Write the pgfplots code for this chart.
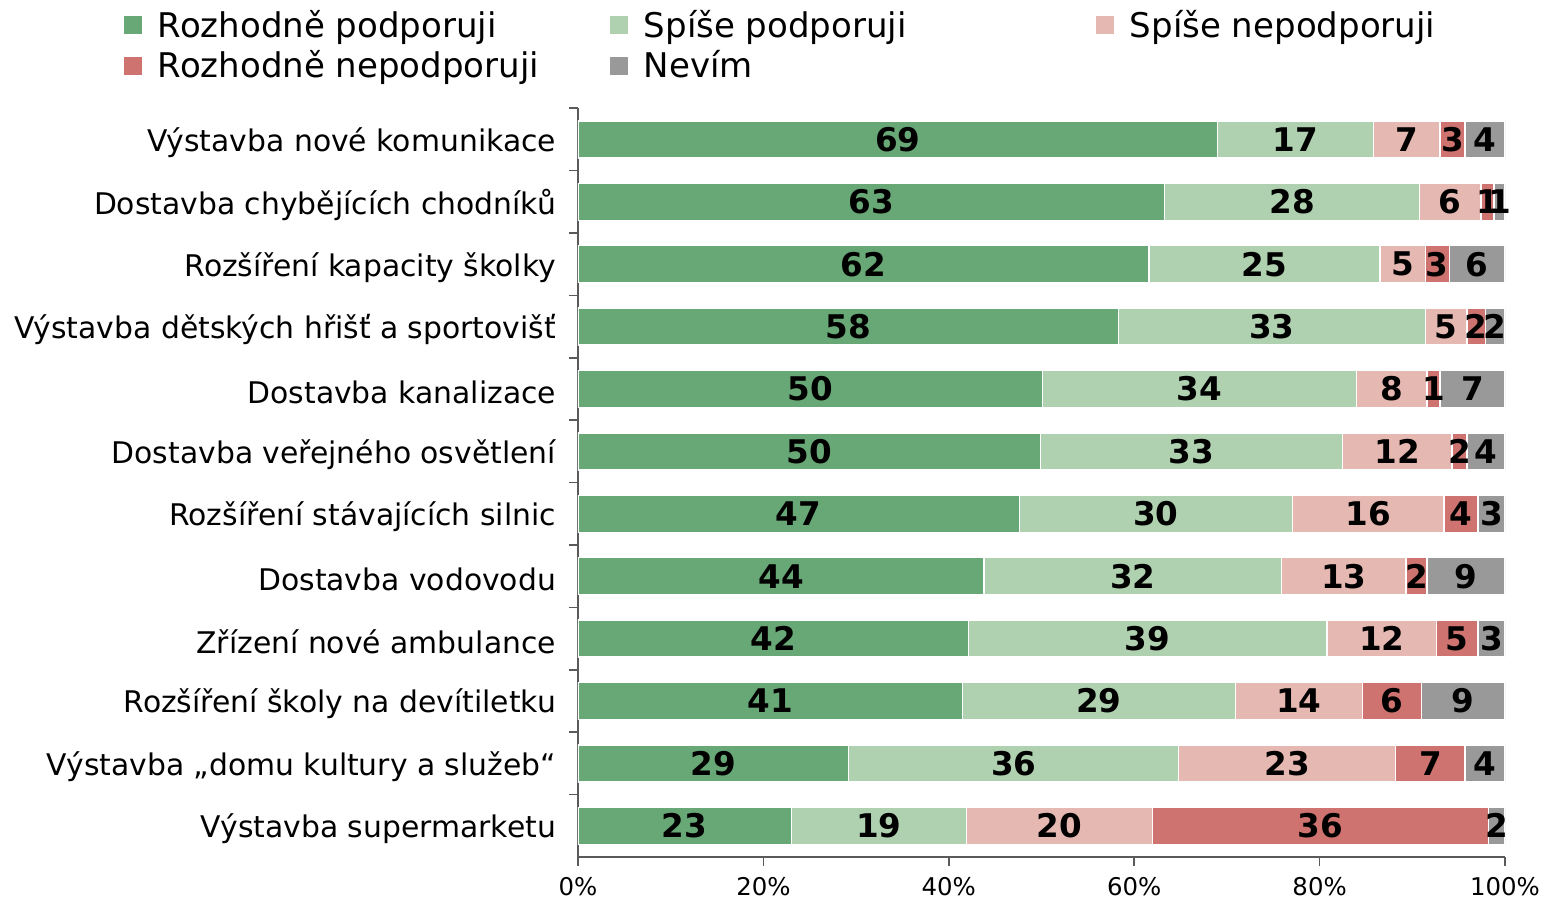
\documentclass[border=0pt]{standalone}
\usepackage{fontspec}
\setmainfont{DejaVu Sans}
\usepackage{pgfplots}
\pgfplotsset{compat=1.18}
\usepackage{pgfplotstable}
\definecolor{c1}{RGB}{104,167,118}
\definecolor{c2}{RGB}{175,209,176}
\definecolor{c3}{RGB}{230,184,178}
\definecolor{c4}{RGB}{206,115,112}
\definecolor{c5}{RGB}{153,153,153}
\definecolor{axc}{RGB}{90,90,90}
\pgfplotstableread{
y v1 v2 v3 v4 v5 l1 l2 l3 l4 l5
0 69.0 16.8 7.2 2.7 4.3 69 17 7 3 4
1 63.3 27.5 6.6 1.4 1.2 63 28 6 1 1
2 61.6 24.9 4.9 2.6 6.0 62 25 5 3 6
3 58.3 33.1 4.5 2.0 2.1 58 33 5 2 2
4 50.1 33.9 7.6 1.4 7.0 50 34 8 1 7
5 49.9 32.6 11.8 1.6 4.1 50 33 12 2 4
6 47.6 29.5 16.3 3.7 2.9 47 30 16 4 3
7 43.8 32.1 13.4 2.3 8.4 44 32 13 2 9
8 42.1 38.7 11.8 4.5 2.9 42 39 12 5 3
9 41.5 29.4 13.7 6.4 9.0 41 29 14 6 9
10 29.2 35.6 23.4 7.5 4.3 29 36 23 7 4
11 23.0 18.9 20.1 36.2 1.8 23 19 20 36 2
}\data
\begin{document}
\begin{tikzpicture}
\begin{axis}[
  at={(0,0)}, anchor=south west,
  scale only axis, x=4.635pt, y=31.2pt,
  xbar stacked, bar width=18.5pt,
  xmin=0, xmax=100, ymin=-0.5, ymax=11.5, y dir=reverse,
  axis x line*=bottom, axis y line*=left,
  axis line style={axc, line width=0.8pt},
  every axis plot/.append style={draw=white, line width=0.7pt,
    nodes near coords, point meta=explicit symbolic},
  nodes near coords style={anchor=center, black,
    font=\fontsize{16.3}{16}\selectfont\bfseries, inner sep=0pt},
  xtick={0,20,...,100},
  xticklabels={0\%,20\%,40\%,60\%,80\%,100\%},
  tick align=outside, major tick length=4.5pt, minor tick length=4.5pt,
  tick style={axc, line width=0.8pt},
  every major y tick/.append style={draw=none},
  ytick={0,...,11},
  minor ytick={-0.5,0.5,...,10.5},
  yticklabels={Výstavba nové komunikace, Dostavba chybějících chodníků, Rozšíření kapacity školky, Výstavba dětských hřišť a sportovišť, Dostavba kanalizace, Dostavba veřejného osvětlení, Rozšíření stávajících silnic, Dostavba vodovodu, Zřízení nové ambulance, Rozšíření školy na devítiletku, Výstavba „domu kultury a služeb“, Výstavba supermarketu},
  yticklabel style={font=\fontsize{14.9}{16}\selectfont, anchor=east, xshift=-3pt, yshift=-1.5pt},
  xticklabel style={font=\fontsize{12.2}{14}\selectfont, yshift=-2pt},
  legend columns=3,
  legend style={at={(axis description cs:-0.4967,1.142)}, anchor=north west, draw=none, fill=none,
    font=\fontsize{17}{18}\selectfont, row sep=1pt,
    /tikz/every odd column/.append style={column sep=2pt}},
  legend cell align=left,
  legend image code/.code={\fill[#1, draw=none] (0pt,-4.5pt) rectangle (9pt,4.5pt);},
]
\addplot[fill=c1] table[x=v1,y=y,meta=l1]{\data};
\addplot[fill=c2] table[x=v2,y=y,meta=l2]{\data};
\addplot[fill=c3] table[x=v3,y=y,meta=l3]{\data};
\addplot[fill=c4] table[x=v4,y=y,meta=l4]{\data};
\addplot[fill=c5] table[x=v5,y=y,meta=l5]{\data};
\legend{\makebox[228pt][l]{\hspace{4pt}Rozhodně podporuji}, \makebox[228pt][l]{\hspace{4pt}Spíše podporuji}, \hspace{4pt}Spíše nepodporuji, \hspace{4pt}Rozhodně nepodporuji, \hspace{4pt}Nevím}
\end{axis}
\pgfresetboundingbox
\path (-289pt,-26pt) rectangle (484.5pt,428.5pt);
\end{tikzpicture}
\end{document}
